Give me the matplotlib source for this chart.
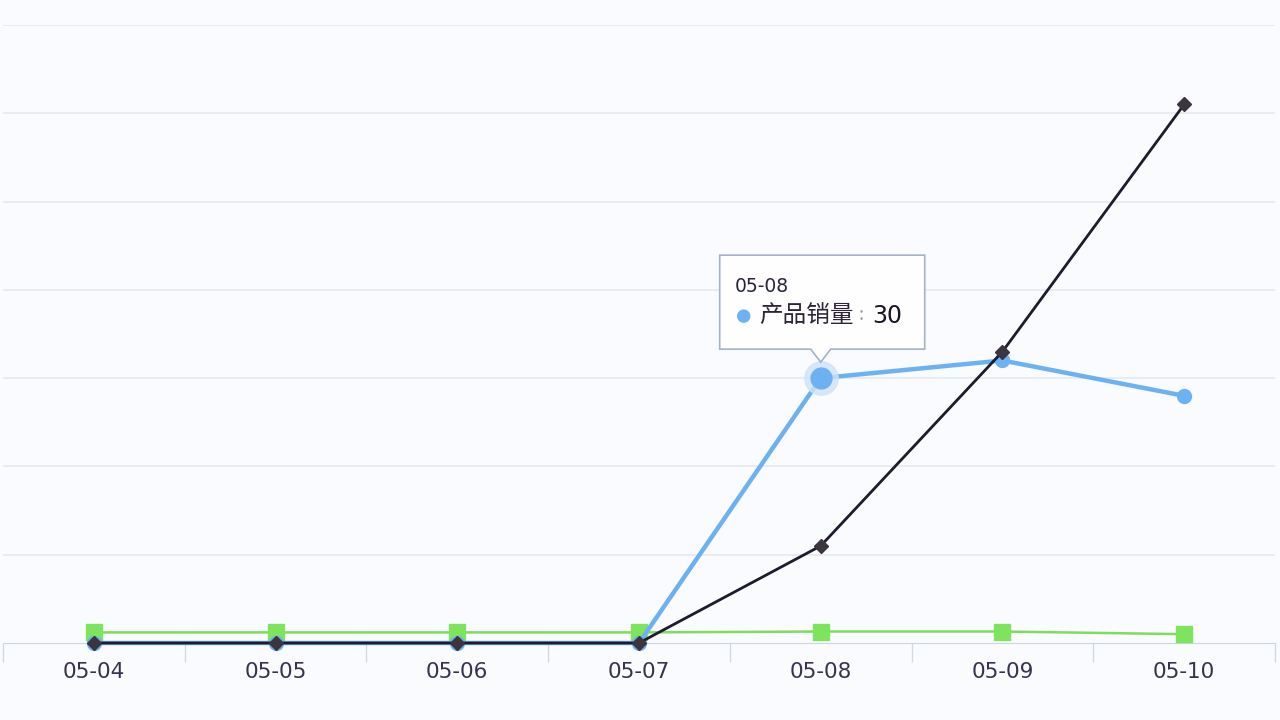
import matplotlib.pyplot as plt
from matplotlib.patches import Polygon, Ellipse

plt.rcParams['font.family'] = ['Noto Sans CJK SC', 'DejaVu Sans']

dates = ['05-04', '05-05', '05-06', '05-07', '05-08', '05-09', '05-10']
sales = [0, 0, 0, 0, 30, 32, 28]          # 产品销量 (blue)
black_vals = [0, 0, 0, 0, 11, 33, 61]     # dark line
green_vals = [1.2, 1.2, 1.2, 1.2, 1.3, 1.3, 1.0]
hover_idx = 4

bg = '#f9fbfe'
fig = plt.figure(figsize=(12.8, 7.2), dpi=100, facecolor=bg)
ax = fig.add_axes([3 / 1280, 1 - 643 / 720, 1272 / 1280, 618 / 720])
ax.set_facecolor(bg)

x = list(range(len(dates)))
ax.plot(x, green_vals, color='#7ddd5c', lw=1.8, marker='s', ms=11,
        mfc='#7ee35d', mec='#7ee35d', zorder=3, clip_on=False)
ax.plot(x, sales, color='#6cb2f2', lw=3.2, marker='o', ms=10,
        mfc='#6cb2f2', mec='#6cb2f2', zorder=4, clip_on=False)
ax.plot(x, black_vals, color='#1f1a2c', lw=2, marker='D', ms=7,
        mfc='#3b3540', mec='#3b3540', zorder=5, clip_on=False)

# hovered point
ax.plot(x[hover_idx], sales[hover_idx], 'o', ms=24, color='#cfe3f7', alpha=0.8, zorder=6)
ax.plot(x[hover_idx], sales[hover_idx], 'o', ms=15, color='#6cb2f2', zorder=7)

ax.set_xlim(-0.5, len(dates) - 0.5)
ax.set_ylim(0, 70)
ax.set_yticks(range(10, 71, 10))
ax.yaxis.grid(True, color='#e4e9f0', lw=1.2)
ax.set_axisbelow(True)
ax.tick_params(axis='y', left=False, labelleft=False)

ax.set_xticks(x)
ax.set_xticklabels(dates, family='DejaVu Sans')
ax.set_xticks([i - 0.5 for i in range(len(dates) + 1)], minor=True)
ax.tick_params(axis='x', which='major', length=0, pad=14, labelsize=15.5,
               labelcolor='#3a3150')
ax.tick_params(axis='x', which='minor', length=14, color='#d2d9e3', width=1)

for s in ['top', 'left', 'right']:
    ax.spines[s].set_visible(False)
ax.spines['bottom'].set_color('#cdd5e0')

# tooltip
fig.canvas.draw()
px, py = ax.transData.transform((x[hover_idx], sales[hover_idx]))
tip_y = py + 16
w_left, w_right, h = 101, 104, 94
bot = tip_y + 13
pts = [(px - w_left, bot), (px - 10, bot), (px, tip_y), (px + 10, bot),
       (px + w_right, bot), (px + w_right, bot + h), (px - w_left, bot + h)]
tip = Polygon(pts, closed=True, transform=None, facecolor='white', alpha=0.97,
              edgecolor='#9fb1c8', lw=1.2, zorder=10)
fig.patches.append(tip)

W, H = fig.bbox.width, fig.bbox.height
fig.text((px - w_left + 15) / W, (bot + h - 31) / H, dates[hover_idx],
         fontsize=13.5, family='DejaVu Sans', color='#2d2438',
         va='center', ha='left', zorder=11)
fig.patches.append(Ellipse(((px - w_left + 24) / W, (bot + h - 61) / H),
                           12 / W, 12 / H, transform=fig.transFigure,
                           color='#6cb2f2', zorder=11))
fig.text((px - w_left + 39) / W, (bot + h - 61) / H, '产品销量',
         fontsize=17, color='#2d2438', va='center', ha='left', zorder=11)
fig.text((px - w_left + 139) / W, (bot + h - 60) / H, ':',
         fontsize=13, color='#9a96a3', va='center', ha='left', zorder=11)
fig.text((px - w_left + 153) / W, (bot + h - 61) / H, str(sales[hover_idx]),
         fontsize=17, family='DejaVu Sans', color='#1a1424',
         va='center', ha='left', zorder=11)

fig.savefig('out.png', dpi=100, facecolor=bg)
